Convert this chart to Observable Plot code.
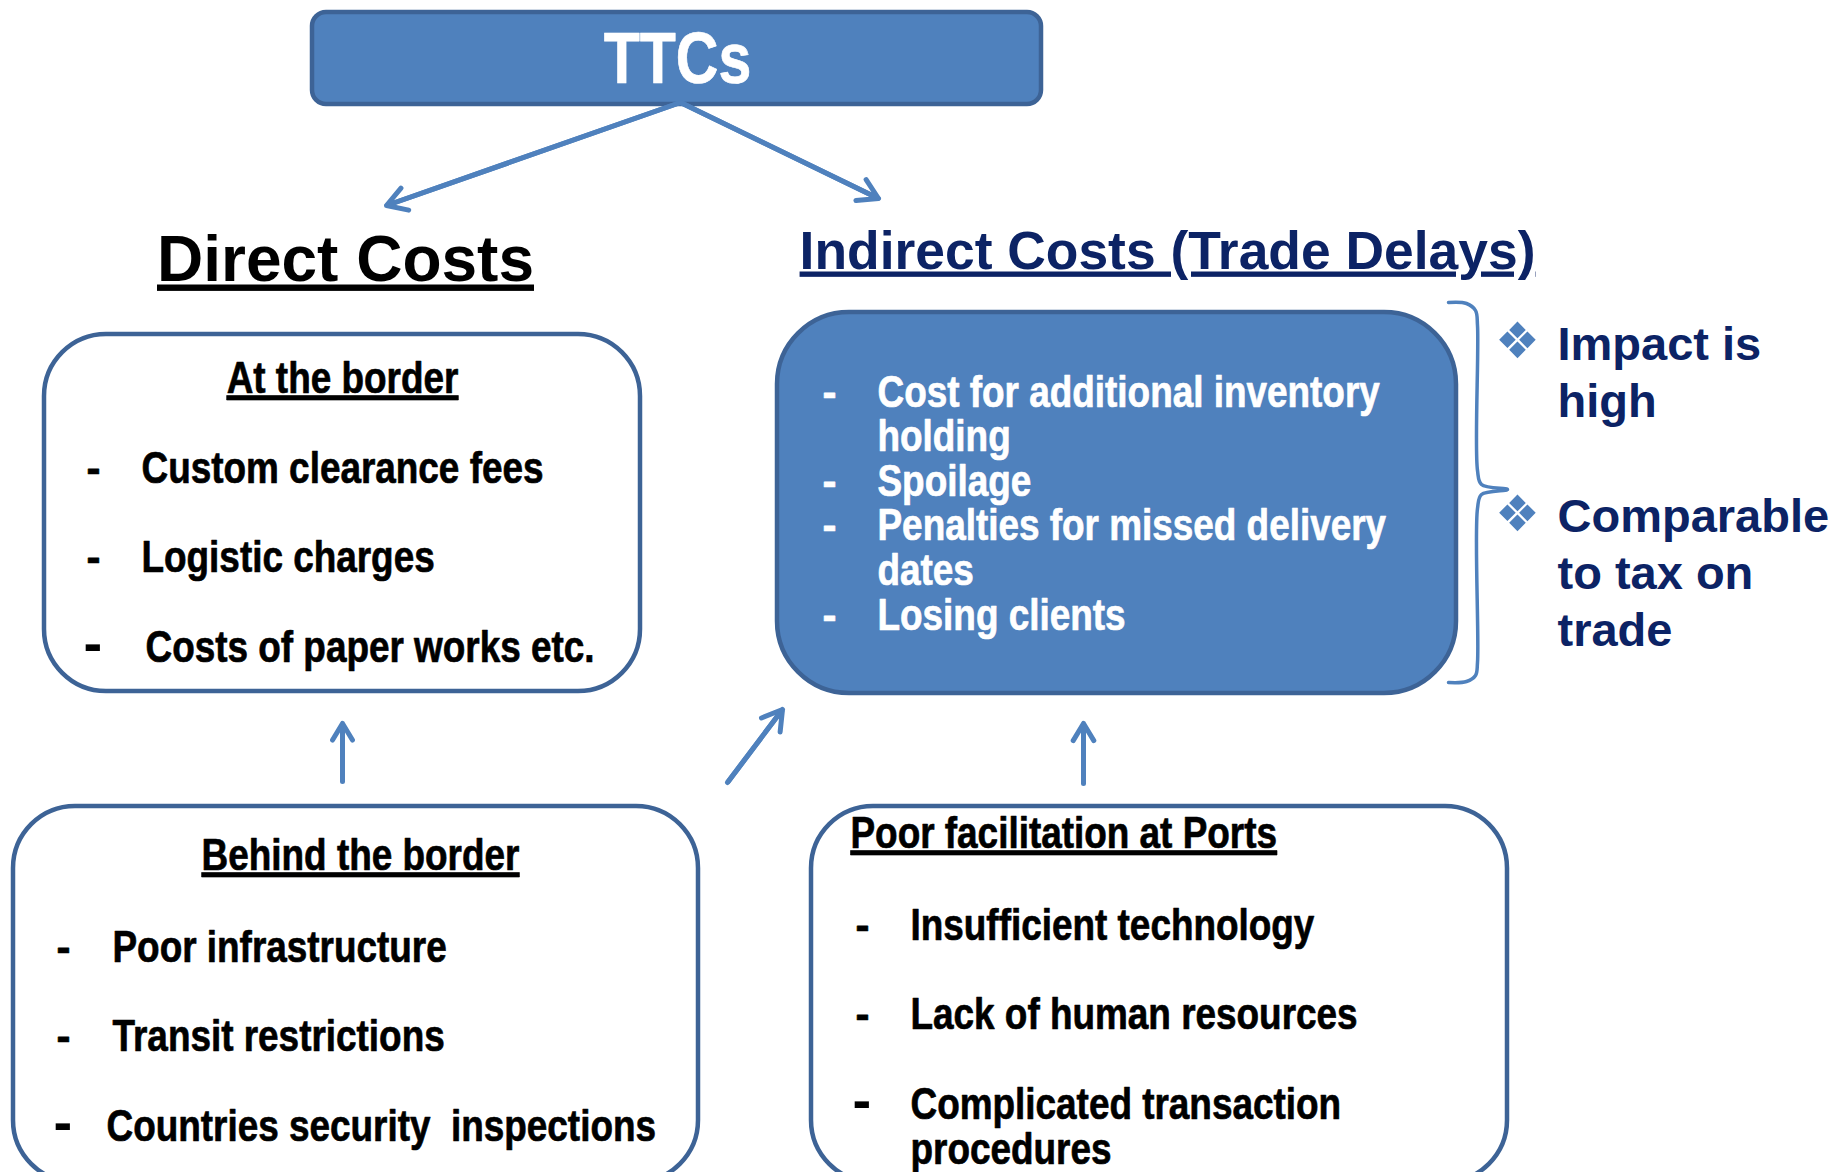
<!DOCTYPE html>
<html><head><meta charset="utf-8">
<script src="https://cdn.jsdelivr.net/npm/d3@7"></script>
<script src="https://cdn.jsdelivr.net/npm/@observablehq/plot@0.6"></script>
<style>
html,body{margin:0;padding:0;background:#fff;overflow:hidden}
svg text{white-space:pre}
</style></head><body><div id="chart"></div>
<script>
// ---------- content (text only) ----------
const rootLabel = "TTCs";
const directTitle = "Direct Costs";
const indirectTitle = "Indirect Costs (Trade Delays)";
const atBorderTitle = "At the border";
const atBorderItems = ["Custom clearance fees", "Logistic charges", "Costs of paper works etc."];
const indirectItems = [["Cost for additional inventory", "holding"], ["Spoilage"], ["Penalties for missed delivery", "dates"], ["Losing clients"]];
const impactNotes = [["Impact is", "high"], ["Comparable", "to tax on", "trade"]];
const behindTitle = "Behind the border";
const behindItems = ["Poor infrastructure", "Transit restrictions", "Countries security  inspections"];
const portsTitle = "Poor facilitation at Ports";
const portsItems = [["Insufficient technology"], ["Lack of human resources"], ["Complicated transaction", "procedures"]];
const underlined = [directTitle, indirectTitle, atBorderTitle, behindTitle, portsTitle];

// ---------- layout & style ----------
const W = 1845, H = 1172;
const BLUE = "#4F81BD", EDGE = "#3D6396", NAVY = "#0C2365";
const NARROW = '"Liberation Sans Narrow","Liberation Sans",Arial,sans-serif';
const WIDE = '"Liberation Sans",Arial,sans-serif';
const NARROW_SCALE = 0.82;

const boxLayout = [
  {x1: 312, y1: 12, x2: 1041, y2: 104, r: 14, fill: BLUE},
  {x1: 44, y1: 334, x2: 640, y2: 691, r: 62, fill: "#fff"},
  {x1: 777, y1: 312, x2: 1456, y2: 693, r: 72, fill: BLUE},
  {x1: 13, y1: 806, x2: 698, y2: 1182, r: 62, fill: "#fff"},
  {x1: 811, y1: 806, x2: 1507, y2: 1182, r: 62, fill: "#fff"}
];
const arrowLayout = [
  {x1: 680, y1: 102, x2: 386, y2: 205},
  {x1: 680, y1: 102, x2: 878, y2: 198},
  {x1: 342, y1: 781, x2: 342, y2: 723},
  {x1: 727, y1: 782, x2: 782, y2: 709},
  {x1: 1083, y1: 783, x2: 1083, y2: 723}
];
const braceLayout = [
  [1448, 302], [1466, 303], [1475, 310], [1477, 325], [1477, 470], [1481, 484], [1507, 489],
  [1481, 494], [1477, 508], [1477, 662], [1475, 675], [1466, 681], [1448, 682]
];

// ---------- build rows ----------
function listRows(items, dashX, textX, y0, step) {
  const rows = [], dashes = [];
  let k = 0;
  items.forEach((it, i) => {
    const lines = Array.isArray(it) ? it : [it];
    dashes.push({x: dashX, y: y0 + k * step, last: i === items.length - 1});
    lines.forEach(l => { rows.push({x: textX, y: y0 + k * step, text: l}); k++; });
  });
  return {rows, dashes};
}
const atB = listRows(atBorderItems, 86, 141, 482, 89.5);
atB.rows[2].x = 145;
const ind = listRows(indirectItems, 822, 877, 406, 44.6);
const beh = listRows(behindItems, 56, 112, 961, 89.5);
beh.rows[2].x = 106;
const por = listRows(portsItems, 855, 910, 939, 89.5);
por.rows[3].y = 1163; por.rows[2].y = 1118;
por.dashes[2].y = 1118;

const noteRows = [];
const noteBaselines = [[359, 416], [531, 588, 645]];
const bulletY = [341, 514];
impactNotes.forEach((n, i) => n.forEach((l, j) => noteRows.push({x: 1557, y: noteBaselines[i][j], text: l})));
const bullets = bulletY.map(y => ({x: 1517, y, text: "❖"}));

const centeredTitles = [
  {x: 342, y: 392, text: atBorderTitle},
  {x: 360, y: 869, text: behindTitle}
];
const leftTitles = [{x: 850, y: 847, text: portsTitle}];

const bold = (color) => ({fill: color, stroke: color, strokeWidth: 0.7, fontWeight: "bold"});

const itemMarks = (set, color) => [
  Plot.text(set.rows, {x: "x", y: "y", text: "text", ...bold(color), fontSize: 45, fontFamily: NARROW, textAnchor: "start", lineAnchor: "bottom"}),
  Plot.text(set.dashes.filter(d => !d.last || color === "#fff"), {x: "x", y: "y", text: () => "-", ...bold(color), fontSize: 42, fontFamily: NARROW, textAnchor: "start", lineAnchor: "bottom"}),
  Plot.text(set.dashes.filter(d => d.last && color !== "#fff"), {x: "x", y: "y", text: () => "-", fill: color, fontWeight: "bold", fontSize: 56, fontFamily: WIDE, textAnchor: "start", lineAnchor: "bottom", dx: -3})
];

const plot = Plot.plot({
  width: W, height: H, margin: 0,
  x: {domain: [0, W], range: [0, W], axis: null},
  y: {domain: [0, H], range: [0, H], axis: null},
  style: {background: "#fff"},
  marks: [
    ...boxLayout.map(b => Plot.rect([b], {x1: "x1", x2: "x2", y1: "y1", y2: "y2", fill: b.fill, stroke: EDGE, strokeWidth: 4.5, rx: b.r})),
    Plot.link(arrowLayout, {x1: "x1", y1: "y1", x2: "x2", y2: "y2", stroke: BLUE, strokeWidth: 5, strokeLinecap: "butt"}),
    Plot.arrow(arrowLayout, {x1: "x1", y1: "y1", x2: "x2", y2: "y2", stroke: BLUE, strokeWidth: 5, headLength: 6.8, headAngle: 62, strokeLinecap: "round", strokeLinejoin: "round"}),
    Plot.line(braceLayout, {x: d => d[0], y: d => d[1], stroke: BLUE, strokeWidth: 3.5, curve: "catmull-rom"}),
    Plot.text([rootLabel], {x: () => 677, y: () => 82, text: d => d, ...bold("#fff"), fontSize: 72, fontFamily: NARROW, lineAnchor: "bottom"}),
    Plot.text([directTitle], {x: () => 345, y: () => 280, text: d => d, fill: "#000", fontSize: 64, fontWeight: "bold", fontFamily: WIDE, lineAnchor: "bottom"}),
    Plot.text([indirectTitle], {x: () => 1167, y: () => 268, text: d => d, fill: NAVY, fontSize: 53.4, fontWeight: "bold", fontFamily: WIDE, lineAnchor: "bottom"}),
    Plot.text(centeredTitles, {x: "x", y: "y", text: "text", textAnchor: "middle", ...bold("#000"), fontSize: 45, fontFamily: NARROW, lineAnchor: "bottom"}),
    Plot.text(leftTitles, {x: "x", y: "y", text: "text", textAnchor: "start", ...bold("#000"), fontSize: 45, fontFamily: NARROW, lineAnchor: "bottom"}),
    ...itemMarks(atB, "#000"),
    ...itemMarks(ind, "#fff"),
    ...itemMarks(beh, "#000"),
    ...itemMarks(por, "#000"),
    Plot.text(bullets, {x: "x", y: "y", text: "text", fill: BLUE, fontSize: 50, fontFamily: '"DejaVu Sans",sans-serif', lineAnchor: "middle"}),
    Plot.text(noteRows, {x: "x", y: "y", text: "text", fill: NAVY, fontSize: 47, fontWeight: "bold", fontFamily: WIDE, textAnchor: "start", lineAnchor: "bottom"})
  ]
});
document.getElementById("chart").appendChild(plot);
d3.select(plot).selectAll("text").each(function () {
  if (underlined.includes(this.textContent)) this.style.textDecoration = "underline";
  const fam = getComputedStyle(this).fontFamily || "";
  if (fam.includes("Narrow") && this.textContent.trim().length > 1) {
    const len = this.getComputedTextLength();
    this.setAttribute("textLength", (len * NARROW_SCALE).toFixed(1));
    this.setAttribute("lengthAdjust", "spacingAndGlyphs");
  }
});
</script>
</body></html>
